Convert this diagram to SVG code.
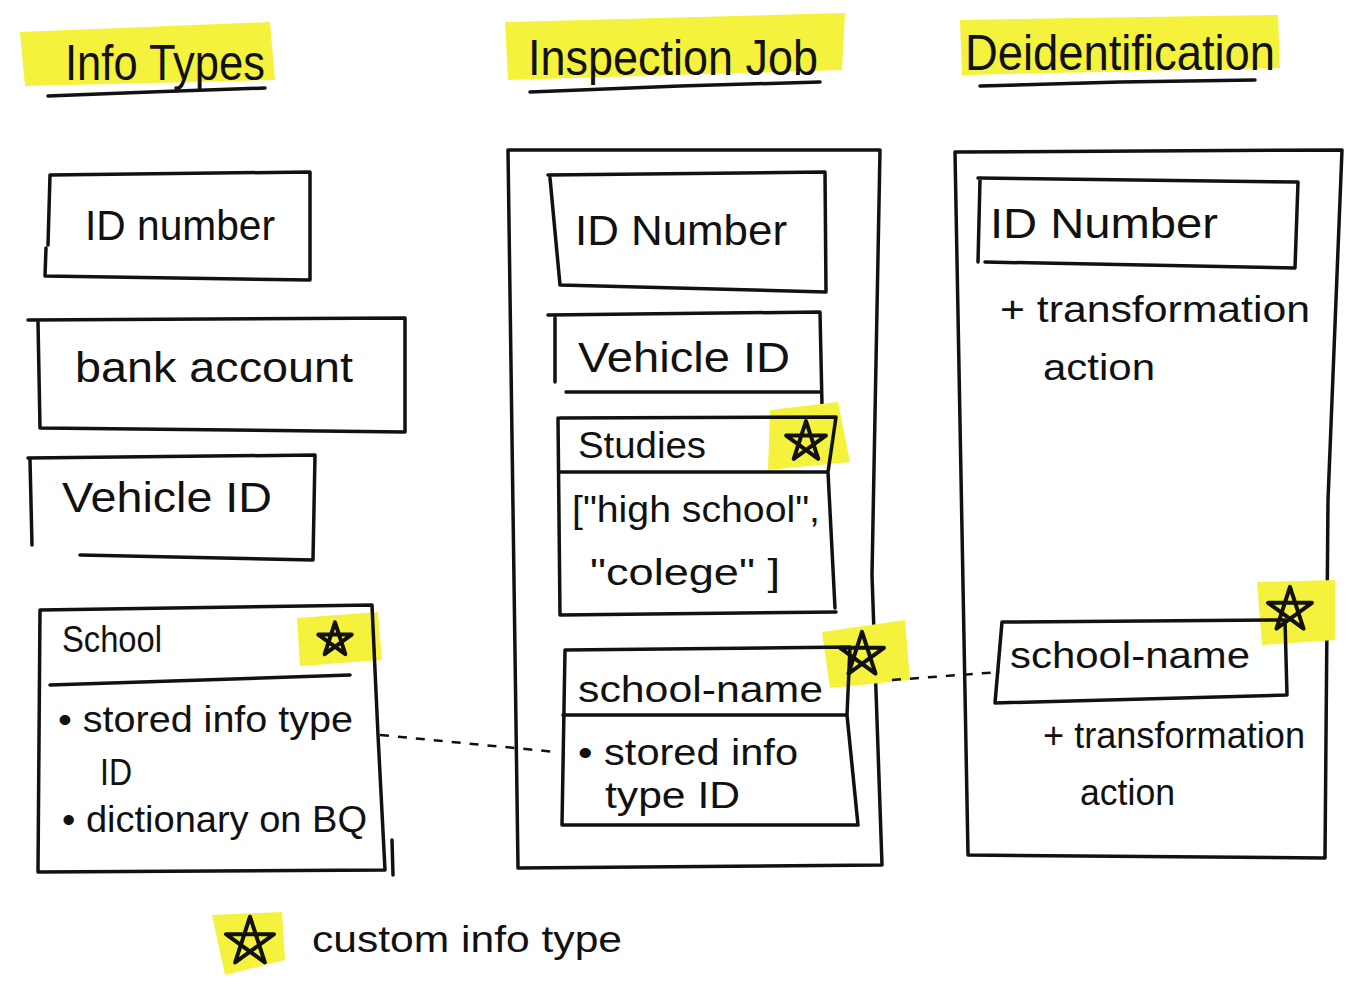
<svg xmlns="http://www.w3.org/2000/svg" width="1354" height="991" viewBox="0 0 1354 991">
<style>
.ln{fill:none;stroke:#111;stroke-width:3.5;stroke-linecap:round;stroke-linejoin:round}
.st{fill:none;stroke:#111;stroke-width:4;stroke-linecap:round;stroke-linejoin:round;vector-effect:non-scaling-stroke}
.dash{fill:none;stroke:#111;stroke-width:2.5;stroke-dasharray:9 9}
.hl{fill:#f4f23c}
.t{font-family:"Liberation Sans","DejaVu Sans",sans-serif;fill:#111}
.h{font-size:50px}
.b{font-size:42px}
.s{font-size:36px}
</style>
<defs>
<path id="star" class="st" d="M0,-22 L12.9,17.8 L-20.9,-6.8 L20.9,-6.8 L-12.9,17.8 Z"/>
</defs>
<rect width="1354" height="991" fill="#fff"/>

<g id="header-info-types">
<path class="hl" d="M20,32 L270,22 L275,80 L25,86 Z"/>
<text class="t h" x="65" y="80" textLength="200" lengthAdjust="spacingAndGlyphs">Info Types</text>
<path class="ln" d="M48,96 L150,92 L265,88"/>
</g>
<g id="header-inspection-job">
<path class="hl" d="M505,22 L845,13 L842,70 L508,80 Z"/>
<text class="t h" x="528" y="75" textLength="290" lengthAdjust="spacingAndGlyphs">Inspection Job</text>
<path class="ln" d="M530,92 L680,86 L820,82"/>
</g>
<g id="header-deidentification">
<path class="hl" d="M960,20 L1278,15 L1280,68 L962,75 Z"/>
<text class="t h" x="965" y="70" textLength="310" lengthAdjust="spacingAndGlyphs">Deidentification</text>
<path class="ln" d="M980,86 L1120,82 L1255,80"/>
</g>

<g id="info-id-number">
<path class="ln" d="M50,175 L310,172 L310,280 L45,276 L46,248 M50,175 L48,245"/>
<text class="t b" x="85" y="240" textLength="190" lengthAdjust="spacingAndGlyphs">ID number</text>
</g>
<g id="info-bank-account">
<path class="ln" d="M28,320 L405,318 L405,432 L40,428 L38,322"/>
<text class="t b" x="75" y="382" textLength="278" lengthAdjust="spacingAndGlyphs">bank account</text>
</g>
<g id="info-vehicle-id">
<path class="ln" d="M28,458 L315,455 L313,560 L80,555 M30,460 L32,545"/>
<text class="t b" x="62" y="512" textLength="210" lengthAdjust="spacingAndGlyphs">Vehicle ID</text>
</g>
<g id="info-school">
<path class="hl" d="M297,618 L378,612 L382,660 L300,666 Z"/>
<path class="ln" d="M40,610 L372,605 L378,735 L385,870 L38,872 L40,610 M50,685 L350,675 M392,840 L393,875"/>
<use href="#star" transform="translate(335,640) scale(0.8)"/>
<text class="t s" x="62" y="652" textLength="100" lengthAdjust="spacingAndGlyphs">School</text>
<text class="t s" x="58" y="732" textLength="295" lengthAdjust="spacingAndGlyphs">• stored info type</text>
<text class="t s" x="100" y="785" textLength="32" lengthAdjust="spacingAndGlyphs">ID</text>
<text class="t s" x="62" y="832" textLength="305" lengthAdjust="spacingAndGlyphs">• dictionary on BQ</text>
</g>

<g id="inspection-job">
<path class="ln" d="M508,150 L880,150 L872,575 L882,865 L518,868 L508,150"/>
</g>
<g id="job-id-number">
<path class="ln" d="M548,175 L825,172 L826,292 L560,285 L550,178"/>
<text class="t b" x="575" y="245" textLength="212" lengthAdjust="spacingAndGlyphs">ID Number</text>
</g>
<g id="job-vehicle-id">
<path class="ln" d="M548,315 L820,312 L822,405 M555,318 L555,382 M566,392 L820,392"/>
<text class="t b" x="578" y="372" textLength="212" lengthAdjust="spacingAndGlyphs">Vehicle ID</text>
</g>
<g id="job-studies">
<path class="hl" d="M770,410 L838,402 L850,462 L768,470 Z"/>
<path class="ln" d="M560,418 L836,417 L828,472 L835,608 M558,418 L560,615 L836,612 M560,472 L828,472"/>
<use href="#star" transform="translate(806,442) scale(0.95)"/>
<text class="t s" x="578" y="458" textLength="128" lengthAdjust="spacingAndGlyphs">Studies</text>
<text class="t s" x="572" y="522" textLength="248" lengthAdjust="spacingAndGlyphs">["high school",</text>
<text class="t s" x="590" y="585" textLength="190" lengthAdjust="spacingAndGlyphs">"colege" ]</text>
</g>
<g id="job-school-name">
<path class="hl" d="M822,632 L905,620 L910,680 L830,688 Z"/>
<path class="ln" d="M565,650 L850,647 L847,715 L858,825 L562,825 L565,650 M563,715 L847,715"/>
<use href="#star" transform="translate(862,655) scale(1.05)"/>
<text class="t s" x="578" y="702" textLength="245" lengthAdjust="spacingAndGlyphs">school-name</text>
<text class="t s" x="578" y="765" textLength="220" lengthAdjust="spacingAndGlyphs">• stored info</text>
<text class="t s" x="605" y="808" textLength="135" lengthAdjust="spacingAndGlyphs">type ID</text>
</g>

<g id="deidentification">
<path class="ln" d="M955,152 L1342,150 L1328,500 L1325,858 L968,855 L955,152"/>
</g>
<g id="deid-id-number">
<path class="ln" d="M978,178 L1298,182 L1295,268 L985,262 M980,180 L978,262"/>
<text class="t b" x="990" y="238" textLength="228" lengthAdjust="spacingAndGlyphs">ID Number</text>
<text class="t s" x="1000" y="322" textLength="310" lengthAdjust="spacingAndGlyphs">+ transformation</text>
<text class="t s" x="1043" y="380" textLength="112" lengthAdjust="spacingAndGlyphs">action</text>
</g>
<g id="deid-school-name">
<path class="hl" d="M1257,582 L1335,580 L1335,640 L1262,645 Z"/>
<path class="ln" d="M1003,622 L1285,620 L1287,695 L995,703 L1002,622"/>
<use href="#star" transform="translate(1290,610) scale(1.05)"/>
<text class="t s" x="1010" y="668" textLength="240" lengthAdjust="spacingAndGlyphs">school-name</text>
<text class="t s" x="1043" y="748" textLength="262" lengthAdjust="spacingAndGlyphs">+ transformation</text>
<text class="t s" x="1080" y="805" textLength="95" lengthAdjust="spacingAndGlyphs">action</text>
</g>

<g id="connectors">
<path class="dash" d="M380,735 L556,752"/>
<path class="dash" d="M892,680 L1000,672"/>
</g>

<g id="legend">
<path class="hl" d="M212,915 L282,912 L285,960 L225,975 Z"/>
<use href="#star" transform="translate(250,942) scale(1.15)"/>
<text class="t s" x="312" y="952" textLength="310" lengthAdjust="spacingAndGlyphs">custom info type</text>
</g>
</svg>
